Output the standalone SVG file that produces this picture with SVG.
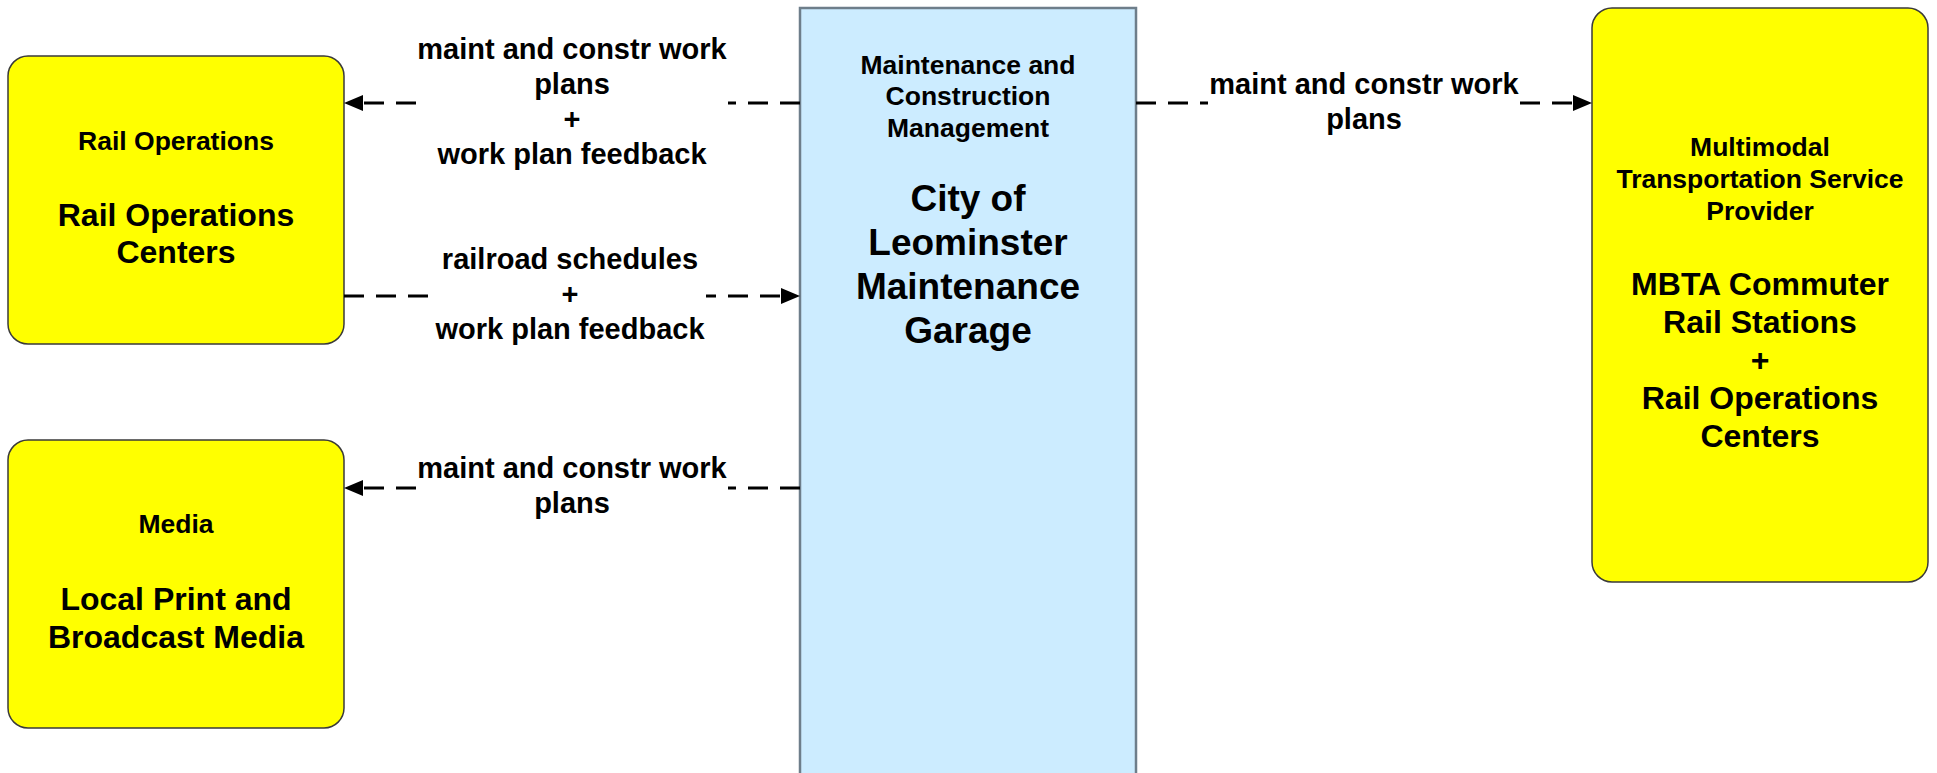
<svg xmlns="http://www.w3.org/2000/svg" width="1937" height="773" viewBox="0 0 1937 773">
<style>
  text { font-family: "Liberation Sans", Arial, sans-serif; font-weight: bold; fill: #000; text-anchor: middle; }
  .ext { fill: #FFFF00; stroke: #3a3a3a; stroke-width: 1.5; }
  .sys { fill: #CCECFF; stroke: #6E7E8A; stroke-width: 2.5; }
  .small { font-size: 26.5px; }
  .big { font-size: 32px; }
  .cbig { font-size: 37px; }
  .lbl { font-size: 29px; }
  .flow { fill: none; stroke: #000; stroke-width: 3; stroke-dasharray: 20 12; marker-end: url(#arrow); }
  .bg { fill: #FFFFFF; }
</style>
<defs>
  <marker id="arrow" markerUnits="userSpaceOnUse" markerWidth="20" markerHeight="18" refX="0" refY="8" orient="auto" viewBox="0 0 20 18">
    <path d="M0,0 L19,8 L0,16 z" fill="#000"/>
  </marker>
</defs>

<g id="node-maintenance">
  <rect class="sys" x="800" y="8" width="336" height="780"/>
  <text class="small" x="968" y="74">Maintenance and</text>
  <text class="small" x="968" y="105">Construction</text>
  <text class="small" x="968" y="137">Management</text>
  <text class="cbig" x="968" y="211">City of</text>
  <text class="cbig" x="968" y="255">Leominster</text>
  <text class="cbig" x="968" y="299">Maintenance</text>
  <text class="cbig" x="968" y="343">Garage</text>
</g>

<g id="node-rail-ops">
  <rect class="ext" x="8" y="56" width="336" height="288" rx="20" ry="20"/>
  <text class="small" x="176" y="150">Rail Operations</text>
  <text class="big" x="176" y="226">Rail Operations</text>
  <text class="big" x="176" y="263">Centers</text>
</g>

<g id="node-media">
  <rect class="ext" x="8" y="440" width="336" height="288" rx="20" ry="20"/>
  <text class="small" x="176" y="533">Media</text>
  <text class="big" x="176" y="610">Local Print and</text>
  <text class="big" x="176" y="648">Broadcast Media</text>
</g>

<g id="node-mbta">
  <rect class="ext" x="1592" y="8" width="336" height="574" rx="20" ry="20"/>
  <text class="small" x="1760" y="156">Multimodal</text>
  <text class="small" x="1760" y="188">Transportation Service</text>
  <text class="small" x="1760" y="220">Provider</text>
  <text class="big" x="1760" y="295">MBTA Commuter</text>
  <text class="big" x="1760" y="333">Rail Stations</text>
  <text class="big" x="1760" y="371">+</text>
  <text class="big" x="1760" y="409">Rail Operations</text>
  <text class="big" x="1760" y="447">Centers</text>
</g>

<g id="connectors">
  <path class="flow" d="M800,103 L363,103"/>
  <path class="flow" d="M344,296 L781,296"/>
  <path class="flow" d="M800,488 L363,488"/>
  <path class="flow" d="M1136,103 L1573,103"/>

  <g id="label-1">
    <rect class="bg" x="416" y="36" width="312" height="136"/>
    <text class="lbl" x="572" y="59">maint and constr work</text>
    <text class="lbl" x="572" y="94">plans</text>
    <text class="lbl" x="572" y="129">+</text>
    <text class="lbl" x="572" y="164">work plan feedback</text>
  </g>
  <g id="label-2">
    <rect class="bg" x="431" y="246" width="275" height="100"/>
    <text class="lbl" x="570" y="269">railroad schedules</text>
    <text class="lbl" x="570" y="304">+</text>
    <text class="lbl" x="570" y="339">work plan feedback</text>
  </g>
  <g id="label-3">
    <rect class="bg" x="416" y="456" width="312" height="64"/>
    <text class="lbl" x="572" y="478">maint and constr work</text>
    <text class="lbl" x="572" y="513">plans</text>
  </g>
  <g id="label-4">
    <rect class="bg" x="1208" y="71" width="312" height="64"/>
    <text class="lbl" x="1364" y="94">maint and constr work</text>
    <text class="lbl" x="1364" y="129">plans</text>
  </g>
</g>
</svg>
